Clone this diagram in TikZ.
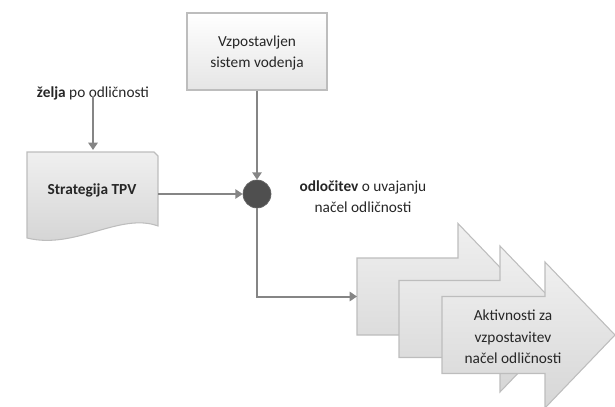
\documentclass[tikz,border=0pt]{standalone}
\usepackage{fontspec}
\setmainfont{Carlito}
\usetikzlibrary{arrows.meta,calc}
\definecolor{linegray}{HTML}{858585}
\definecolor{edgegray}{HTML}{BDBDBD}
\definecolor{dotgray}{HTML}{4F4F4F}
\tikzset{
  conn/.style={draw=linegray, line width=1.5pt, -{Triangle[width=7pt,length=5.5pt]}},
  lbl/.style={font=\fontsize{11.5pt}{16pt}\selectfont, text=black!85, align=center, inner sep=0pt},
  boxfill/.style={draw=edgegray, line width=0.8pt, top color=white, bottom color=gray!20},
  docfill/.style={draw=edgegray, line width=0.8pt, top color=gray!12, bottom color=gray!35},
  chevfill/.style={draw=edgegray, line width=0.8pt, top color=gray!12, bottom color=gray!32},
}
\begin{document}
\begin{tikzpicture}[x=0.75pt,y=-0.75pt]
\useasboundingbox (0,0) rectangle (615,407);
% top box
\node[boxfill, minimum width=140*0.75pt, minimum height=77*0.75pt, inner sep=0pt] (sys) at (257,51.5) {};
\node[lbl] (systext) at (257,53) {Vzpostavljen\\sistem vodenja};
% zelja
\node[lbl] (zelja) at (93,93) {\textbf{želja} po odličnosti};
% document shape
\path[docfill] (27,152) -- (154,152) -- (158,156) -- (158,226)
   .. controls (120,212) and (75,250) .. (27,238) -- cycle;
\coordinate (docR) at (158,194);
\coordinate (docT) at (93,150);
\node[lbl, font=\fontsize{11.5pt}{16pt}\selectfont\bfseries] (strat) at (92,190) {Strategija TPV};
% decision dot
\node[circle, fill=dotgray, draw=gray!80!black, line width=0.5pt, minimum size=28*0.75pt, inner sep=0pt] (dec) at (257,194) {};
\node[lbl] (dectext) at (363,197) {\textbf{odločitev} o uvajanju\\načel odličnosti};
% chevrons
\newcommand\chev[3]{% L, c, H
  \path[chevfill] (#1,#2-38.5) -- (#3,#2-38.5) -- (#3,#2-73) -- (#3+70,#2) -- (#3,#2+73) -- (#3,#2+38.5) -- (#1,#2+38.5) -- cycle;}
\chev{357}{296.5}{458}
\chev{399}{319}{500}
\chev{442}{335}{545}
\coordinate (a1) at (357,296.5);
\node[lbl] (akt) at (513,337) {Aktivnosti za\\vzpostavitev\\načel odličnosti};
% connectors
\draw[conn] (zelja.south) ++(0,-4) coordinate (zs) -- (docT);
\draw[conn] (sys.south) -- (dec.north);
\draw[conn] (docR) -- (dec.west);
\draw[conn] (dec.south) |- (a1);
\end{tikzpicture}
\end{document}
